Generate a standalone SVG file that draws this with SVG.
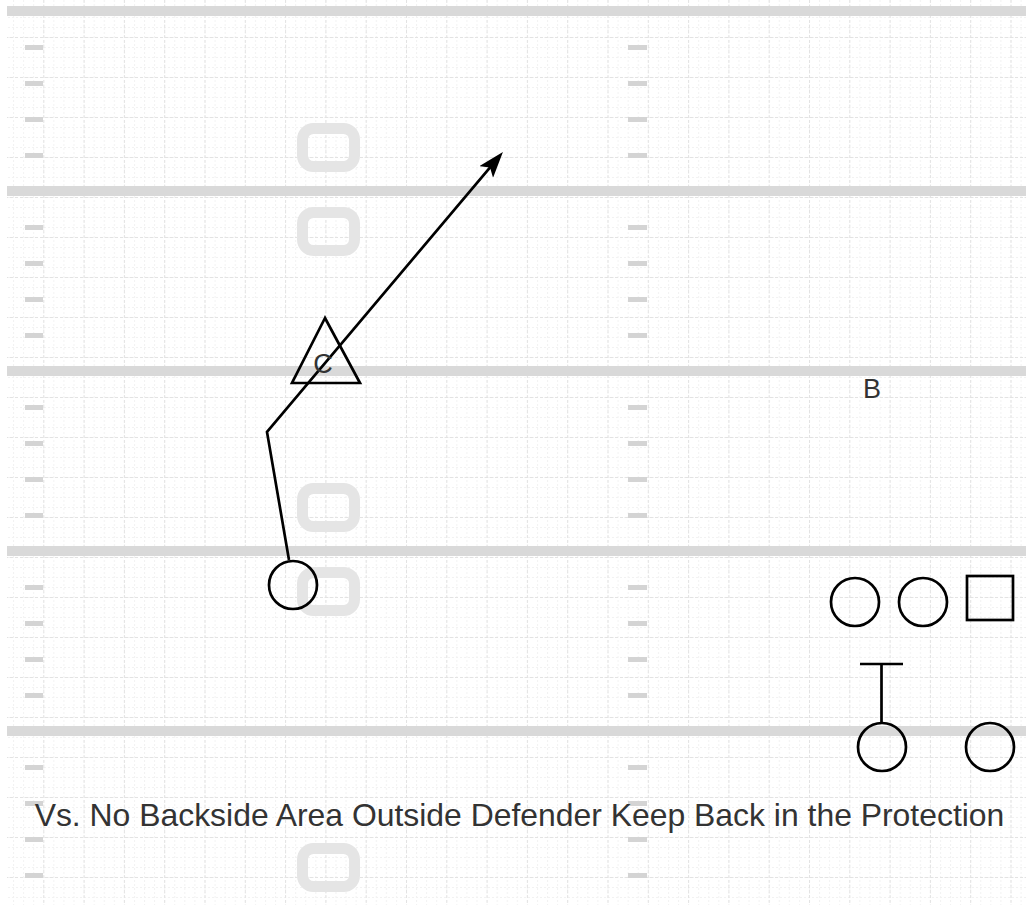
<svg xmlns="http://www.w3.org/2000/svg" width="1026" height="905" viewBox="0 0 1026 905">
  <defs>
    <pattern id="minorV" x="3" y="0" width="10.075" height="905" patternUnits="userSpaceOnUse">
      <line x1="0.5" y1="0" x2="0.5" y2="905" stroke="#f2f2f2" stroke-width="1" stroke-dasharray="2,2"/>
    </pattern>
    <pattern id="minorH" x="0" y="-3" width="1026" height="10" patternUnits="userSpaceOnUse">
      <line x1="0" y1="0.5" x2="1026" y2="0.5" stroke="#f2f2f2" stroke-width="1" stroke-dasharray="2,2"/>
    </pattern>
    <pattern id="majorV" x="3" y="0" width="40.3" height="905" patternUnits="userSpaceOnUse">
      <line x1="0.5" y1="0" x2="0.5" y2="905" stroke="#e3e3e3" stroke-width="1" stroke-dasharray="3,2"/>
    </pattern>
    <pattern id="majorH" x="0" y="-3" width="1026" height="40" patternUnits="userSpaceOnUse">
      <line x1="0" y1="0.5" x2="1026" y2="0.5" stroke="#e3e3e3" stroke-width="1" stroke-dasharray="3,2"/>
    </pattern>
    <marker id="arrow" viewBox="0 0 26 18" markerWidth="26" markerHeight="18" refX="12" refY="9" orient="auto" markerUnits="userSpaceOnUse">
      <path d="M0,0 L26,9 L0,18 L6,9 z" fill="#000"/>
    </marker>
    <style>
      .stripe { fill: #d9d9d9; }
      .hash { fill: #d4d4d4; }
      .num { fill: none; stroke: #e5e5e5; stroke-width: 11; }
      .player { fill: none; stroke: #000; stroke-width: 2.7; }
      .route { fill: none; stroke: #000; stroke-width: 2.7; stroke-linejoin: miter; }
      .label { font-family: "Liberation Sans", Arial, sans-serif; fill: #333; }
    </style>
  </defs>

  <rect width="1026" height="905" fill="#fff"/>

  <g id="field">
    <rect x="7" y="0" width="1019" height="905" fill="url(#minorV)"/>
    <rect x="7" y="0" width="1019" height="905" fill="url(#minorH)"/>
    <rect x="7" y="0" width="1019" height="905" fill="url(#majorV)"/>
    <rect x="7" y="0" width="1019" height="905" fill="url(#majorH)"/>

    <rect class="stripe" x="7" y="6" width="1019" height="10"/>
    <rect class="stripe" x="7" y="186" width="1019" height="10"/>
    <rect class="stripe" x="7" y="366" width="1019" height="10"/>
    <rect class="stripe" x="7" y="546" width="1019" height="10"/>
    <rect class="stripe" x="7" y="726" width="1019" height="10"/>

    <g id="hashes-left">
      <rect class="hash" x="25" y="45" width="18" height="5"/>
      <rect class="hash" x="25" y="81" width="18" height="5"/>
      <rect class="hash" x="25" y="117" width="18" height="5"/>
      <rect class="hash" x="25" y="153" width="18" height="5"/>
      <rect class="hash" x="25" y="225" width="18" height="5"/>
      <rect class="hash" x="25" y="261" width="18" height="5"/>
      <rect class="hash" x="25" y="297" width="18" height="5"/>
      <rect class="hash" x="25" y="333" width="18" height="5"/>
      <rect class="hash" x="25" y="405" width="18" height="5"/>
      <rect class="hash" x="25" y="441" width="18" height="5"/>
      <rect class="hash" x="25" y="477" width="18" height="5"/>
      <rect class="hash" x="25" y="513" width="18" height="5"/>
      <rect class="hash" x="25" y="585" width="18" height="5"/>
      <rect class="hash" x="25" y="621" width="18" height="5"/>
      <rect class="hash" x="25" y="657" width="18" height="5"/>
      <rect class="hash" x="25" y="693" width="18" height="5"/>
      <rect class="hash" x="25" y="765" width="18" height="5"/>
      <rect class="hash" x="25" y="801" width="18" height="5"/>
      <rect class="hash" x="25" y="837" width="18" height="5"/>
      <rect class="hash" x="25" y="873" width="18" height="5"/>
    </g>
    <g id="hashes-mid">
      <rect class="hash" x="628" y="45" width="19" height="5"/>
      <rect class="hash" x="628" y="81" width="19" height="5"/>
      <rect class="hash" x="628" y="117" width="19" height="5"/>
      <rect class="hash" x="628" y="153" width="19" height="5"/>
      <rect class="hash" x="628" y="225" width="19" height="5"/>
      <rect class="hash" x="628" y="261" width="19" height="5"/>
      <rect class="hash" x="628" y="297" width="19" height="5"/>
      <rect class="hash" x="628" y="333" width="19" height="5"/>
      <rect class="hash" x="628" y="405" width="19" height="5"/>
      <rect class="hash" x="628" y="441" width="19" height="5"/>
      <rect class="hash" x="628" y="477" width="19" height="5"/>
      <rect class="hash" x="628" y="513" width="19" height="5"/>
      <rect class="hash" x="628" y="585" width="19" height="5"/>
      <rect class="hash" x="628" y="621" width="19" height="5"/>
      <rect class="hash" x="628" y="657" width="19" height="5"/>
      <rect class="hash" x="628" y="693" width="19" height="5"/>
      <rect class="hash" x="628" y="765" width="19" height="5"/>
      <rect class="hash" x="628" y="801" width="19" height="5"/>
      <rect class="hash" x="628" y="837" width="19" height="5"/>
      <rect class="hash" x="628" y="873" width="19" height="5"/>
    </g>

    <g id="yard-numbers">
      <rect class="num" x="302.5" y="128.5" width="52" height="38" rx="11"/>
      <rect class="num" x="302.5" y="212.5" width="52" height="38" rx="11"/>
      <rect class="num" x="302.5" y="488.5" width="52" height="38" rx="11"/>
      <rect class="num" x="302.5" y="572.5" width="52" height="38" rx="11"/>
      <rect class="num" x="302.5" y="848.5" width="52" height="38" rx="11"/>
    </g>
  </g>

  <g id="connectors">
    <path id="route" class="route" d="M289,560 L267,432 L493.9,162.8" marker-end="url(#arrow)"/>
    <path id="block" class="route" d="M860,664 L903,664 M881.5,664 L881.5,722"/>
  </g>

  <g id="player-receiver">
    <circle class="player" cx="293" cy="585" r="24"/>
  </g>

  <g id="defender-c">
    <polygon class="player" points="325,318 292,383 360,383"/>
    <text class="label" x="323" y="373" font-size="27" text-anchor="middle">C</text>
  </g>

  <g id="label-b">
    <text class="label" x="872" y="398" font-size="27" text-anchor="middle">B</text>
  </g>

  <g id="player-1">
    <circle class="player" cx="855" cy="602" r="24"/>
  </g>
  <g id="player-2">
    <circle class="player" cx="923" cy="602" r="24"/>
  </g>
  <g id="player-center">
    <rect class="player" x="967" y="576" width="46" height="44"/>
  </g>
  <g id="player-back">
    <circle class="player" cx="882" cy="747" r="24"/>
  </g>
  <g id="player-4">
    <circle class="player" cx="990" cy="747" r="24"/>
  </g>

  <g id="caption">
    <text class="label" x="519.5" y="826" font-size="31.9" text-anchor="middle">Vs. No Backside Area Outside Defender Keep Back in the Protection</text>
  </g>
</svg>
